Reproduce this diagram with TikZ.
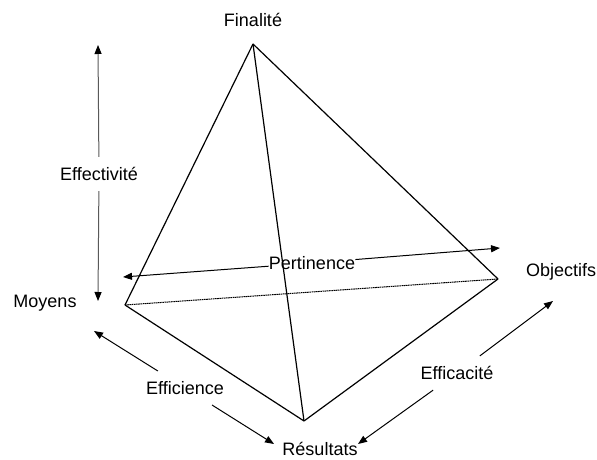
\documentclass[tikz,border=0pt]{standalone}
\usepackage{fontspec}
\setmainfont{Liberation Sans}
\usepackage{tikz}
\usetikzlibrary{arrows.meta}
\tikzset{
  edge/.style={black, line width=0.6pt},
  hidden/.style={black, line width=0.5pt, dash pattern=on 0.8pt off 0.3pt},
  tip/.style={-{Triangle[length=4.5pt,width=3.5pt,color=black]}, line width=0.5pt},
  pole/.style={inner sep=0pt, font=\fontsize{9}{11}\selectfont},
  gaplabel/.style={inner sep=5pt, font=\fontsize{9}{11}\selectfont},
}
\begin{document}
\begin{tikzpicture}[x=0.5pt,y=-0.5pt]
  \useasboundingbox (0,0) rectangle (597,459);
  % sommets du tetraedre
  \coordinate (F) at (253,44);
  \coordinate (M) at (125,305);
  \coordinate (O) at (498,279);
  \coordinate (R) at (304,421);
  \draw[edge] (F) -- (M);
  \draw[edge] (F) -- (O);
  \draw[edge] (F) -- (R);
  \draw[edge] (M) -- (R);
  \draw[edge] (O) -- (R);
  \draw[hidden] (M) -- (O);
  % poles
  \node[pole] (fin) at (253,20) {Finalité};
  \node[pole] (moy) at (45,303) {Moyens};
  \node[pole] (obj) at (561,272) {Objectifs};
  \node[pole] (res) at (320,449) {Résultats};
  % Effectivite
  \coordinate (effTop) at (98,45);
  \coordinate (effBot) at (98,301);
  \node[gaplabel] (effv) at (99,174) {Effectivité};
  \draw[tip, black!65] (effv) -- (effTop);
  \draw[tip, black!65] (effv) -- (effBot);
  % Pertinence
  \coordinate (pertL) at (123,277);
  \coordinate (pertR) at (500,248);
  \node[pole] (pert) at (312,263) {Pertinence};
  \draw[tip] (pert) -- (pertL);
  \draw[tip] (pert) -- (pertR);
  % Efficience
  \coordinate (ecL) at (94,331);
  \coordinate (ecR) at (274,444);
  \node[gaplabel] (effi) at (185,388) {Efficience};
  \draw[tip] (effi) -- (ecL);
  \draw[tip] (effi) -- (ecR);
  % Efficacite
  \coordinate (eaL) at (358,444);
  \coordinate (eaR) at (553,301);
  \node[gaplabel] (effa) at (457,373) {Efficacité};
  \draw[tip] (effa) -- (eaL);
  \draw[tip] (effa) -- (eaR);
\end{tikzpicture}
\end{document}
